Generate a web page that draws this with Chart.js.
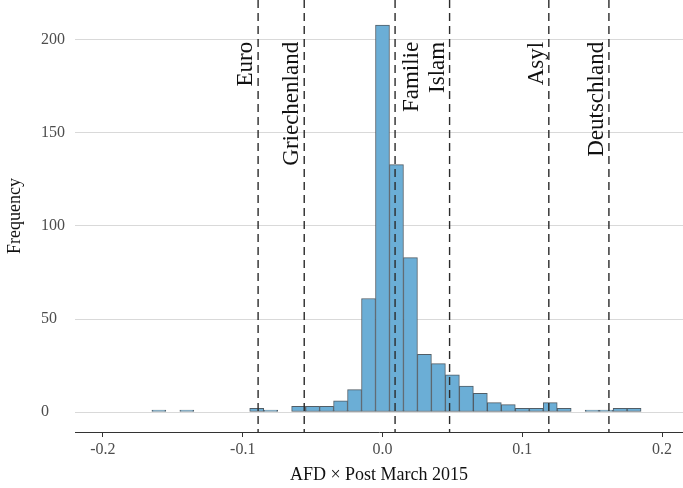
<!DOCTYPE html>
<html>
<head>
<meta charset="utf-8">
<script src="https://cdn.jsdelivr.net/npm/chart.js@4.4.1/dist/chart.umd.min.js"></script>
<style>
    html, body { margin: 0; padding: 0; background: #fff; }
    #wrap { width: 683px; height: 488px; }
</style>
</head>
<body>
<div id="wrap"><canvas id="histChart"></canvas></div>
<script>
// Histogram: centre of each 0.01 wide bin and its count
const binCenters = [-0.19, -0.18, -0.17, -0.16, -0.15, -0.14, -0.13, -0.12, -0.11, -0.10,
                    -0.09, -0.08, -0.07, -0.06, -0.05, -0.04, -0.03, -0.02, -0.01, 0.00,
                    0.01, 0.02, 0.03, 0.04, 0.05, 0.06, 0.07, 0.08, 0.09, 0.10,
                    0.11, 0.12, 0.13, 0.14, 0.15, 0.16, 0.17, 0.18, 0.19];
const counts = [0, 0, 0, 1, 0, 1, 0, 0, 0, 0,
                2, 1, 0, 3, 3, 3, 6, 12, 61, 208,
                133, 83, 31, 26, 20, 14, 10, 5, 4, 2,
                2, 5, 2, 0, 1, 1, 2, 2, 0];

// Marked words (dashed lines)
const wordNames = ['Euro', 'Griechenland', 'Familie', 'Islam', 'Asyl', 'Deutschland'];
const wordValues = [-0.089, -0.056, 0.009, 0.048, 0.119, 0.162];

const xTicks = [-0.2, -0.1, 0.0, 0.1, 0.2];
const yTicks = [0, 50, 100, 150, 200];

const serif = "'Liberation Serif', 'DejaVu Serif', serif";

// draws the dashed word lines and their rotated labels
const wordLines = {
    id: 'wordLines',
    afterDatasetsDraw(chart) {
        const ctx = chart.ctx;
        const area = chart.chartArea;
        const xs = chart.scales.x;
        const ys = chart.scales.y;
        const labelY = ys.getPixelForValue(199);
        ctx.save();
        for (let i = 0; i < wordNames.length; i++) {
            const px = xs.getPixelForValue(wordValues[i]);
            ctx.beginPath();
            ctx.setLineDash([8, 5]);
            ctx.lineWidth = 1.4;
            ctx.strokeStyle = '#2b2b2b';
            ctx.moveTo(px, area.top);
            ctx.lineTo(px, area.bottom);
            ctx.stroke();

            // Familie sits right of its line, the others left
            const bx = wordNames[i] === 'Familie' ? px + 23 : px - 6;
            ctx.save();
            ctx.translate(bx, labelY);
            ctx.rotate(-Math.PI / 2);
            ctx.setLineDash([]);
            ctx.font = '23px ' + serif;
            ctx.fillStyle = '#111111';
            ctx.textAlign = 'right';
            ctx.textBaseline = 'alphabetic';
            ctx.fillText(wordNames[i], 0, 0);
            ctx.restore();
        }
        ctx.restore();
    }
};

const ctx = document.getElementById('histChart').getContext('2d');
new Chart(ctx, {
    type: 'bar',
    data: {
        datasets: [{
            xAxisID: 'x',
            yAxisID: 'y',
            data: binCenters.map((c, i) => ({ x: c, y: counts[i] })),
            backgroundColor: '#6baed6',
            borderColor: '#515d66',
            borderWidth: 1,
            borderSkipped: false,
            barPercentage: 1,
            categoryPercentage: 1
        }]
    },
    options: {
        responsive: true,
        maintainAspectRatio: false,
        animation: false,
        layout: { padding: 0 },
        plugins: {
            legend: { display: false },
            tooltip: { enabled: false }
        },
        scales: {
            x: {
                type: 'linear',
                offset: false,
                min: -0.22,
                max: 0.215,
                afterBuildTicks: (scale) => { scale.ticks = xTicks.map(v => ({ value: v })); },
                afterFit: (scale) => {
                    scale.height = 56;
                    scale.paddingLeft = 0;
                    scale.paddingRight = 0;
                },
                grid: {
                    offset: false,
                    drawOnChartArea: false,
                    drawTicks: true,
                    tickLength: 5,
                    color: '#333333'
                },
                border: { display: true, color: '#333333', width: 1 },
                ticks: {
                    color: '#4d4d4d',
                    font: { family: serif, size: 16 },
                    padding: 3,
                    maxRotation: 0,
                    autoSkip: false,
                    callback: (v) => Number(v).toFixed(1)
                },
                title: {
                    display: true,
                    text: 'AFD × Post March 2015',
                    color: '#111111',
                    font: { family: serif, size: 18 },
                    padding: { top: 0, bottom: 2 }
                }
            },
            // outer box on the left, only carries the axis title
            yTitle: {
                type: 'linear',
                position: 'left',
                weight: 1,
                afterFit: (scale) => {
                    scale.width = 41;
                    scale.paddingTop = 0;
                    scale.paddingBottom = 0;
                },
                grid: { display: false },
                border: { display: false },
                ticks: { display: false },
                title: {
                    display: true,
                    text: 'Frequency',
                    color: '#111111',
                    font: { family: serif, size: 18 },
                    padding: { top: 4, bottom: 0 }
                }
            },
            y: {
                type: 'linear',
                position: 'left',
                weight: 0,
                min: -10.75,
                max: 221.5,
                afterBuildTicks: (scale) => { scale.ticks = yTicks.map(v => ({ value: v })); },
                afterFit: (scale) => {
                    scale.width = 34;
                    scale.paddingTop = 0;
                    scale.paddingBottom = 0;
                },
                grid: {
                    color: '#d9d9d9',
                    drawTicks: false
                },
                border: { display: false },
                ticks: {
                    color: '#4d4d4d',
                    font: { family: serif, size: 16 },
                    padding: 10,
                    crossAlign: 'far'
                }
            }
        }
    },
    plugins: [wordLines]
});
</script>
</body>
</html>
